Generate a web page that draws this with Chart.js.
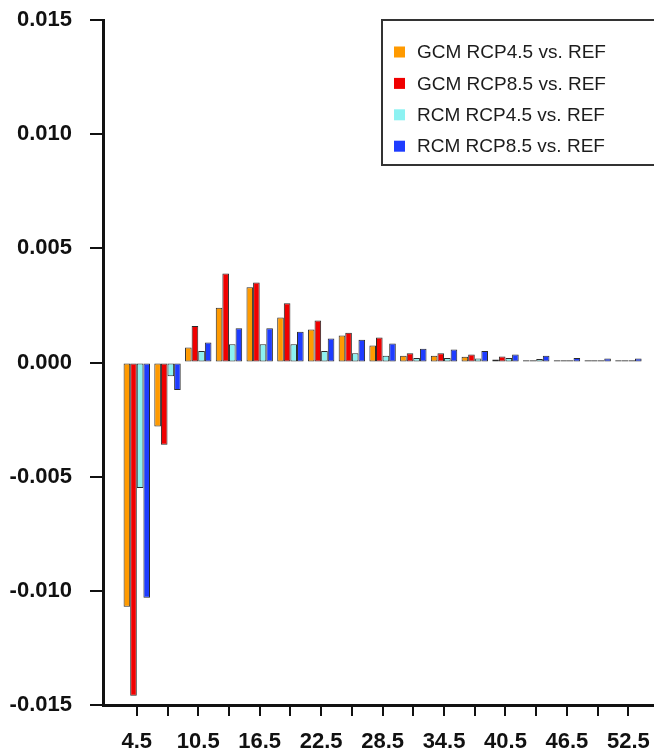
<!DOCTYPE html>
<html>
<head>
<meta charset="utf-8">
<script src="https://cdn.jsdelivr.net/npm/chart.js@4.4.1/dist/chart.umd.min.js"></script>
<style>
  html, body { margin: 0; padding: 0; background: #ffffff; }
  #wrap { width: 654px; height: 753px; position: relative; }
</style>
</head>
<body>
<div id="wrap"><canvas id="c" width="654" height="753"></canvas></div>
<script>
// Bin centres along the x axis
const bins = [4.5, 7.5, 10.5, 13.5, 16.5, 19.5, 22.5, 25.5, 28.5, 31.5, 34.5, 37.5, 40.5, 43.5, 46.5, 49.5, 52.5];

// Differences against the reference period
const gcmRcp45 = [-0.0107, -0.0028, 0.00066, 0.0024, 0.0033, 0.00197, 0.00145, 0.00118, 0.00075, 0.0003, 0.0003, 0.00025, 0.00013, 0.0001, 0.0001, 0.0001, 0.0001];
const gcmRcp85 = [-0.0146, -0.0036, 0.0016, 0.0039, 0.0035, 0.0026, 0.00184, 0.0013, 0.0011, 0.0004, 0.0004, 0.00035, 0.00026, 0.0001, 0.0001, 0.0001, 0.0001];
const rcmRcp45 = [-0.0055, -0.0006, 0.0005, 0.0008, 0.0008, 0.0008, 0.0005, 0.0004, 0.0003, 0.0002, 0.0002, 0.00017, 0.0002, 0.00015, 0.0001, 0.0001, 0.0001];
const rcmRcp85 = [-0.0103, -0.0012, 0.00088, 0.0015, 0.0015, 0.00135, 0.00105, 0.001, 0.00083, 0.0006, 0.00057, 0.0005, 0.00035, 0.0003, 0.0002, 0.00017, 0.00017];

// Y axis tick values
const yTicks = [-0.015, -0.010, -0.005, 0.000, 0.005, 0.010, 0.015];

const seriesNames = ['GCM RCP4.5 vs. REF', 'GCM RCP8.5 vs. REF', 'RCM RCP4.5 vs. REF', 'RCM RCP8.5 vs. REF'];
const seriesColors = ['#FF9A00', '#F00000', '#8CF2F2', '#1E3CFF'];
const seriesValues = [gcmRcp45, gcmRcp85, rcmRcp45, rcmRcp85];

const FONT = "'Liberation Sans', Arial, Helvetica, sans-serif";

const datasets = seriesValues.map((vals, i) => ({
  label: seriesNames[i],
  data: vals.map((v, k) => ({ x: bins[k], y: v })),
  backgroundColor: seriesColors[i],
  borderColor: '#2a2a2a',
  borderWidth: 1,
  borderSkipped: false,
  categoryPercentage: 0.86,
  barPercentage: 1.0
}));

// Boxed legend drawn in the upper right of the plot area
const boxLegend = {
  id: 'boxLegend',
  afterDraw(chart) {
    const ctx = chart.ctx;
    const left = 382, top = 20, right = 700, bottom = 165;
    ctx.save();
    ctx.fillStyle = '#ffffff';
    ctx.fillRect(left, top, right - left, bottom - top);
    ctx.lineWidth = 2;
    ctx.strokeStyle = '#333333';
    ctx.strokeRect(left, top, right - left, bottom - top);
    ctx.font = '19px ' + FONT;
    ctx.textBaseline = 'middle';
    ctx.textAlign = 'left';
    chart.data.datasets.forEach((ds, i) => {
      const cy = 52 + i * 31.4;
      ctx.fillStyle = ds.backgroundColor;
      ctx.fillRect(394, cy - 5.5, 11, 11);
      ctx.fillStyle = '#1c1c1c';
      ctx.fillText(ds.label, 417, cy + 1);
    });
    ctx.restore();
  }
};

new Chart(document.getElementById('c'), {
  type: 'bar',
  data: { datasets },
  plugins: [boxLegend],
  options: {
    responsive: false,
    animation: false,
    layout: { padding: { top: 20, right: 0, left: 0, bottom: 0 } },
    plugins: {
      legend: { display: false },
      tooltip: { enabled: false }
    },
    scales: {
      x: {
        type: 'linear',
        min: 1.2,
        max: 55.0,
        offset: false,
        afterBuildTicks(scale) {
          scale.ticks = bins.map(v => ({ value: v }));
        },
        afterFit(scale) {
          scale.height = 48;
          scale.paddingLeft = 0;
          scale.paddingRight = 0;
        },
        ticks: {
          autoSkip: false,
          maxRotation: 0,
          minRotation: 0,
          padding: 13,
          color: '#111111',
          font: { family: FONT, size: 22, weight: 'bold' },
          callback(value, index) {
            return index % 2 === 0 ? Number(value).toFixed(1) : '';
          }
        },
        grid: {
          offset: false,
          drawOnChartArea: false,
          drawTicks: true,
          tickLength: 11,
          color: '#111111',
          lineWidth: 2
        },
        border: { display: true, color: '#111111', width: 3 }
      },
      y: {
        min: -0.015,
        max: 0.015,
        afterBuildTicks(scale) {
          scale.ticks = yTicks.map(v => ({ value: v }));
        },
        afterFit(scale) {
          scale.width = 103;
          scale.paddingTop = 0;
          scale.paddingBottom = 0;
        },
        ticks: {
          padding: 18,
          color: '#111111',
          font: { family: FONT, size: 22, weight: 'bold' },
          callback(value) { return Number(value).toFixed(3); }
        },
        grid: {
          drawOnChartArea: false,
          drawTicks: true,
          tickLength: 13,
          color: '#111111',
          lineWidth: 2
        },
        border: { display: true, color: '#111111', width: 3 }
      }
    }
  }
});
</script>
</body>
</html>
